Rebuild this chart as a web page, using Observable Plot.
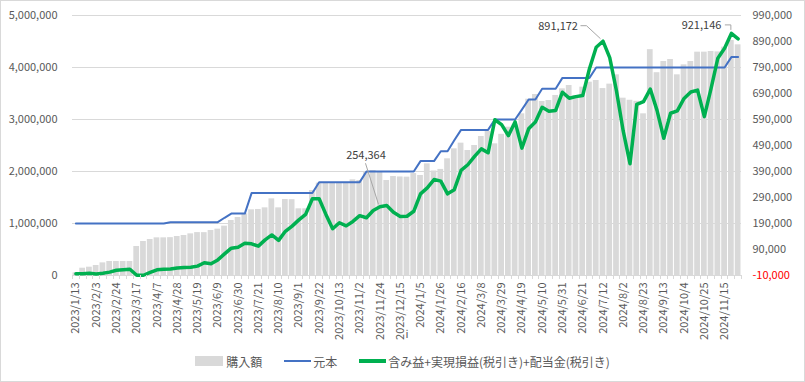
<!DOCTYPE html>
<html>
<head>
<meta charset="utf-8">
<script src="https://cdn.jsdelivr.net/npm/d3@7"></script>
<script src="https://cdn.jsdelivr.net/npm/@observablehq/plot@0.6"></script>
<style>
  body { margin: 0; background: #fff; }
  #wrap { position: relative; width: 805px; height: 382px; overflow: hidden; background: #fff;
          font-family: "Noto Sans CJK JP", "Noto Sans", sans-serif; }
  #frame { position: absolute; left: 0; top: 0; width: 803px; height: 380px; border: 1px solid #d9d9d9; pointer-events: none; }
  #chart { position: absolute; left: 0; top: 0; }
  #legend { position: absolute; left: 0; top: 350px; width: 805px; height: 22px; display: flex;
            justify-content: center; align-items: center; font-size: 12px; color: #595959; }
  .item { display: flex; align-items: center; margin: 0 11px; }
  .sw-bar { width: 28px; height: 10px; background: #d9d9d9; margin-right: 3px; }
  .sw-line { width: 27px; margin-right: 2px; }
</style>
</head>
<body>
<div id="wrap">
  <div id="chart"></div>
  <div id="legend">
    <div class="item"><div class="sw-bar"></div><span>購入額</span></div>
    <div class="item"><div class="sw-line" style="height:2px;background:#4472C4"></div><span>元本</span></div>
    <div class="item"><div class="sw-line" style="height:3.5px;background:#00B050"></div><span>含み益+実現損益(税引き)+配当金(税引き)</span></div>
  </div>
  <div id="frame"></div>
</div>
<script>
// ---- data (weekly, 2023/1/13 .. 2024/11/29) ----
const tickLabels = [
  "2023/1/13","2023/2/3","2023/2/24","2023/3/17","2023/4/7","2023/4/28","2023/5/19","2023/6/9",
  "2023/6/30","2023/7/21","2023/8/10","2023/9/1","2023/9/22","2023/10/13","2023/11/2","2023/11/24",
  "2023/12/15","2024/1/5","2024/1/26","2024/2/16","2024/3/8","2024/3/29","2024/4/19","2024/5/10",
  "2024/5/31","2024/6/21","2024/7/12","2024/8/2","2024/8/23","2024/9/13","2024/10/4","2024/10/25","2024/11/15"
];

// 購入額 (left axis)
const buy = [
  50000,140000,160000,192000,243000,269000,269000,269000,269000,558000,
  654000,692000,724000,724000,728000,750000,769000,801000,825000,824000,
  865000,891000,949000,1058000,1115000,1186000,1263000,1270000,1301000,1474000,
  1301000,1461000,1458000,1282000,1282000,1635000,1776000,1776000,1776000,1776000,
  1776000,1840000,1827000,1995000,2019000,1990000,1827000,1904000,1895000,1891000,
  1960000,1923000,2147000,2010000,2040000,2244000,2436000,2545000,2404000,2500000,
  2673000,2770000,2532000,2715000,2852000,2895000,3109000,3390000,3481000,3346000,
  3365000,3462000,3590000,3654000,3462000,3622000,3718000,3750000,3595000,3680000,
  3859000,3410000,3370000,3350000,3109000,4343000,3900000,4115000,4154000,3859000,
  4051000,4115000,4295000,4295000,4308000,4300000,4391000,4519000,4436000
];

// 元本 (left axis)
const principal = [
  1000000,1000000,1000000,1000000,1000000,1000000,1000000,1000000,1000000,1000000,
  1000000,1000000,1000000,1000000,1025000,1025000,1025000,1025000,1025000,1025000,
  1025000,1025000,1110000,1190000,1190000,1190000,1585000,1585000,1585000,1585000,
  1585000,1585000,1585000,1585000,1585000,1585000,1795000,1795000,1795000,1795000,
  1795000,1795000,1795000,2000000,2000000,2000000,2000000,2000000,2000000,2000000,
  2000000,2200000,2200000,2200000,2390000,2390000,2600000,2800000,2800000,2800000,
  2800000,2800000,3000000,3000000,3000000,3000000,3190000,3385000,3385000,3590000,
  3590000,3590000,3800000,3800000,3800000,3800000,3800000,4000000,4000000,4000000,
  4000000,4000000,4000000,4000000,4000000,4000000,4000000,4000000,4000000,4000000,
  4000000,4000000,4000000,4000000,4000000,4000000,4000000,4200000,4200000
];

// 含み益+実現損益(税引き)+配当金(税引き) (right axis)
const gain = [
  -3000,-3000,-1000,-4000,-1000,3000,10000,12000,14000,-9000,
  -9000,2000,12000,14000,15000,19000,21000,22000,26000,39000,
  35000,50000,73000,95000,99000,114000,112000,103000,127000,146000,
  125000,160000,180000,204000,225000,285000,285000,225000,170000,193000,
  181000,198000,220000,212000,240000,254364,259000,233000,217000,218000,
  237000,304000,327000,359000,353000,304000,320000,394000,416000,448000,
  477000,462000,589000,570000,528000,581000,480000,554000,580000,637000,
  622000,625000,695000,672000,678000,682000,785000,868000,891172,828000,
  700000,545000,420000,648000,659000,707000,625000,518000,614000,623000,
  671000,696000,703000,601000,710000,826000,864000,921146,900000
];

const leftTicks = [0, 1000000, 2000000, 3000000, 4000000, 5000000];
const rightTicks = [-10000, 90000, 190000, 290000, 390000, 490000, 590000, 690000, 790000, 890000, 990000];
const leftDomain = [0, 5000000];
const rightDomain = [-10000, 990000];
const labelled = [45, 78, 97];

// ---- build ----
const toLeft = r => (r - rightDomain[0]) / (rightDomain[1] - rightDomain[0]) * (leftDomain[1] - leftDomain[0]) + leftDomain[0];
const toRight = l => (l - leftDomain[0]) / (leftDomain[1] - leftDomain[0]) * (rightDomain[1] - rightDomain[0]) + rightDomain[0];
const fmt = v => (v < 0 ? "-" : "") + d3.format(",")(Math.abs(Math.round(v)));

const idx = d3.range(buy.length);
const data = idx.map(i => ({i, buy: buy[i], principal: principal[i], gain: gain[i], gainL: toLeft(gain[i])}));
const labelIdx = tickLabels.map((_, k) => k * 3);

const W = 805, H = 340, mL = 72, mR = 64, mT = 15, mB = 65;
const step = (W - mL - mR) / idx.length;

const labelStyle = [
  {dx: -14, dy: -51, anchor: "middle"},
  {dx: -25, dy: -15, anchor: "end"},
  {dx: -10, dy: -8, anchor: "end"}
];

const chart = Plot.plot({
  width: W, height: H,
  marginLeft: mL, marginRight: mR, marginTop: mT, marginBottom: mB,
  style: {fontFamily: '"Noto Sans CJK JP", "Noto Sans", sans-serif', fontSize: "11px", color: "#595959", background: "transparent", overflow: "visible"},
  x: {type: "band", domain: idx, paddingInner: 0.15, paddingOuter: 0.075, axis: null},
  y: {domain: leftDomain, axis: null},
  marks: [
    Plot.ruleY(leftTicks.slice(1), {stroke: "#d9d9d9", strokeWidth: 1}),
    Plot.barY(data, {x: "i", y: "buy", fill: "#d9d9d9"}),
    Plot.ruleY([leftDomain[0]], {stroke: "#d9d9d9", strokeWidth: 1}),
    Plot.line(data, {x: "i", y: "principal", stroke: "#4472C4", strokeWidth: 2, strokeLinejoin: "round"}),
    Plot.line(data, {x: "i", y: "gainL", stroke: "#00B050", strokeWidth: 3.5, strokeLinejoin: "round", strokeLinecap: "round"}),
    Plot.axisY(leftTicks, {anchor: "left", tickSize: 0, tickPadding: 15, tickFormat: fmt, fill: "#595959", fontSize: 11}),
    Plot.axisY(rightTicks.map(toLeft), {anchor: "right", tickSize: 0, tickPadding: 11, tickFormat: v => fmt(toRight(v)), fill: "#595959", fontSize: 11}),
    Plot.axisX(labelIdx, {anchor: "bottom", tickSize: 0, tickPadding: 7, tickRotate: -90, tickFormat: i => tickLabels[i / 3], fill: "#595959", fontSize: 11}),
    ...labelled.map((i, k) => Plot.text([data[i]], {
      x: "i", y: "gainL", text: d => fmt(d.gain),
      dx: labelStyle[k].dx, dy: labelStyle[k].dy, textAnchor: labelStyle[k].anchor,
      fill: "#404040", fontSize: 11
    }))
  ]
});
document.getElementById("chart").appendChild(chart);

// category boundary tick marks and data-label leader lines, placed via the chart's scales
const xs = chart.scale("x"), ys = chart.scale("y");
const svg = d3.select(chart);
const x0 = xs.apply(0) - (xs.step - xs.bandwidth) / 2;
const yAxis = ys.apply(leftDomain[0]);
const g = svg.append("g").attr("stroke", "#d9d9d9").attr("fill", "none");
for (let k = 0; k <= idx.length; k++) {
  const x = Math.round(x0 + k * xs.step) + 0.5;
  g.append("line").attr("x1", x).attr("x2", x).attr("y1", yAxis).attr("y2", yAxis + 4);
}
const lg = svg.append("g").attr("stroke", "#a6a6a6").attr("fill", "none").attr("stroke-width", 1);
const pt = i => [xs.apply(i) + xs.bandwidth / 2, ys.apply(toLeft(gain[i]))];
{
  const [px, py] = pt(labelled[0]);
  lg.append("path").attr("d", `M${px - 14},${py - 43}L${px - 1},${py - 2}`);
}
{
  const [px, py] = pt(labelled[1]);
  lg.append("path").attr("d", `M${px - 22},${py - 15}H${px - 16}L${px - 2},${py - 2}`);
}
{
  const [px, py] = pt(labelled[2]);
  lg.append("path").attr("d", `M${px - 6},${py - 8}H${px}V${py - 3}`);
}
svg.selectAll("text").filter(function () { return this.textContent === "-10,000"; }).attr("fill", "#FF0000");
</script>
</body>
</html>
